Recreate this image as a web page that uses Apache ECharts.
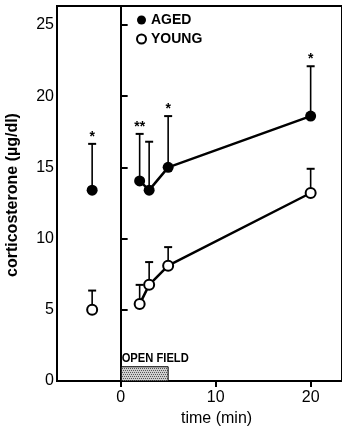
<!DOCTYPE html>
<html>
<head>
<meta charset="utf-8">
<script src="https://cdn.jsdelivr.net/npm/echarts@6/dist/echarts.min.js"></script>
<style>
html, body { margin: 0; padding: 0; background: #fff; }
#chart { width: 342px; height: 432px; }
</style>
</head>
<body>
<div id="chart"></div>
<script>
// time points (min); first one is the baseline before the open field
var times = [-3, 2, 3, 5, 20];
var agedMean = [13.4, 14.05, 13.4, 15.0, 18.6];
var agedUpper = [16.65, 17.35, 16.8, 18.6, 22.1];
var youngMean = [5.0, 5.4, 6.75, 8.1, 13.2];
var youngUpper = [6.35, 6.75, 8.35, 9.4, 14.9];
var agedStars = ['*', '**', '', '*', '*'];
var xTicks = [0, 10, 20];
var yTicks = [0, 5, 10, 15, 20, 25];
var openField = [0, 5];

var FONT = '"Liberation Sans", Arial, sans-serif';

function pairs(ys, from) {
    var out = [];
    for (var i = from; i < times.length; i++) out.push([times[i], ys[i]]);
    return out;
}
function errRows(means, uppers, stars) {
    return times.map(function (t, i) {
        return [t, means[i], uppers[i], stars ? stars[i] : ''];
    });
}

// stippled fill for the open field box
var pat = document.createElement('canvas');
pat.width = 4; pat.height = 4;
var pc = pat.getContext('2d');
pc.fillStyle = '#cfcfcf'; pc.fillRect(0, 0, 4, 4);
pc.fillStyle = '#555';
pc.fillRect(0, 0, 1, 1); pc.fillRect(2, 0, 1, 1);
pc.fillRect(1, 2, 1, 1); pc.fillRect(3, 2, 1, 1);

function renderErr(params, api) {
    var p0 = api.coord([api.value(0), api.value(1)]);
    var p1 = api.coord([api.value(0), api.value(2)]);
    var star = api.value(3);
    var kids = [
        { type: 'line', shape: { x1: p0[0], y1: p0[1], x2: p1[0], y2: p1[1] }, style: { stroke: '#000', lineWidth: 1.6 } },
        { type: 'line', shape: { x1: p1[0] - 4, y1: p1[1], x2: p1[0] + 4, y2: p1[1] }, style: { stroke: '#000', lineWidth: 2 } }
    ];
    if (star && star !== '-') {
        kids.push({ type: 'text', style: { text: star, x: p1[0], y: p1[1] - 7, align: 'center', verticalAlign: 'middle', fill: '#000', font: 'bold 14px ' + FONT } });
    }
    return { type: 'group', children: kids };
}

var chart = echarts.init(document.getElementById('chart'));
chart.setOption({
    animation: false,
    grid: { left: 57, top: 6, right: -3, bottom: 51, show: true, borderColor: '#000', borderWidth: 2 },
    legend: {
        left: 131, top: 8, orient: 'vertical', itemWidth: 9, itemHeight: 9, itemGap: 5,
        textStyle: { color: '#000', fontWeight: 'bold', fontSize: 14, fontFamily: FONT },
        data: [{ name: 'AGED', icon: 'circle' }, { name: 'YOUNG', icon: 'circle' }]
    },
    xAxis: {
        type: 'value', min: -6.7, max: 23.3,
        splitLine: { show: false },
        axisLine: { lineStyle: { color: '#000', width: 2 } },
        axisTick: { inside: false, length: 6, lineStyle: { color: '#000', width: 2 }, customValues: xTicks },
        axisLabel: { customValues: xTicks, color: '#000', fontSize: 16, fontFamily: FONT, margin: 9 }
    },
    yAxis: {
        type: 'value', min: 0, max: 26.33,
        splitLine: { show: false },
        axisLine: { lineStyle: { color: '#000', width: 2 } },
        axisTick: { inside: true, length: 7, lineStyle: { color: '#000', width: 2 }, customValues: yTicks },
        axisLabel: { customValues: yTicks, color: '#000', fontSize: 16, fontFamily: FONT, margin: 3 }
    },
    graphic: [
        { type: 'text', left: 181, top: 411, style: { text: 'time (min)', fill: '#000', font: '16px ' + FONT } },
        { type: 'text', x: 13, y: 195, rotation: Math.PI / 2, style: { text: 'corticosterone (\u00b5g/dl)', fill: '#000', font: 'bold 16px ' + FONT, align: 'center', verticalAlign: 'middle' } }
    ],
    series: [
        {
            type: 'custom', name: 'open field', silent: true, z: 1,
            data: [[openField[0], openField[1]]],
            renderItem: function (params, api) {
                var a = api.coord([api.value(0), 0]);
                var b = api.coord([api.value(1), 1]);
                return { type: 'group', children: [
                    { type: 'rect', shape: { x: a[0], y: b[1], width: b[0] - a[0], height: a[1] - b[1] },
                      style: { fill: { image: pat, repeat: 'repeat' }, stroke: '#000', lineWidth: 1 } },
                    { type: 'text', x: a[0] + 1, y: b[1] - 2, scaleX: 0.86,
                      style: { text: 'OPEN FIELD', x: 0, y: 0, align: 'left', verticalAlign: 'bottom', fill: '#000',
                      font: 'bold 13px ' + FONT } }
                ] };
            },
            markLine: {
                silent: true, symbol: 'none', label: { show: false },
                lineStyle: { color: '#000', width: 1.5, type: 'solid' },
                data: [{ xAxis: 0 }]
            }
        },
        { type: 'custom', name: 'aged err', z: 2, data: errRows(agedMean, agedUpper, agedStars), renderItem: renderErr },
        { type: 'custom', name: 'young err', z: 2, data: errRows(youngMean, youngUpper, null), renderItem: renderErr },
        {
            type: 'line', name: 'AGED', z: 3, data: pairs(agedMean, 1),
            symbol: 'circle', symbolSize: 11,
            lineStyle: { color: '#000', width: 2.5 },
            itemStyle: { color: '#000' }
        },
        {
            type: 'line', name: 'YOUNG', z: 3, data: pairs(youngMean, 1),
            symbol: 'circle', symbolSize: 10,
            lineStyle: { color: '#000', width: 2.5 },
            itemStyle: { color: '#fff', borderColor: '#000', borderWidth: 2 }
        },
        {
            type: 'scatter', name: 'aged base', z: 3, data: [[times[0], agedMean[0]]],
            symbol: 'circle', symbolSize: 11, itemStyle: { color: '#000', opacity: 1 }
        },
        {
            type: 'scatter', name: 'young base', z: 3, data: [[times[0], youngMean[0]]],
            symbol: 'circle', symbolSize: 10, itemStyle: { color: '#fff', borderColor: '#000', borderWidth: 2, opacity: 1 }
        }
    ]
});
</script>
</body>
</html>
